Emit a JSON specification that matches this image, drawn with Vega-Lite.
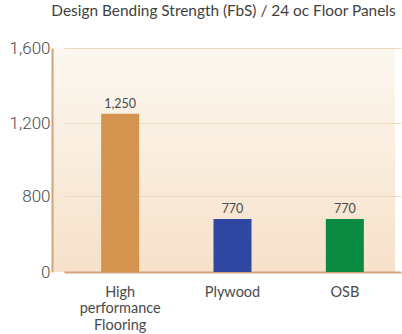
{
  "$schema": "https://vega.github.io/schema/vega-lite/v6.json",
  "autosize": {"type": "none"},
  "width": 343,
  "height": 224,
  "padding": {"left": 52, "top": 48, "right": 7, "bottom": 62},
  "background": "#ffffff",
  "title": {
    "text": "Design Bending Strength (FbS) / 24 oc Floor Panels",
    "anchor": "middle",
    "font": "Lato",
    "fontSize": 15.4,
    "fontWeight": "normal",
    "color": "#3f3f3f",
    "offset": 20
  },
  "config": {
    "view": {
      "stroke": null,
      "fill": {
        "gradient": "linear",
        "x1": 0, "y1": 0, "x2": 0, "y2": 1,
        "stops": [
          {"offset": 0, "color": "#fcf8f0"},
          {"offset": 1, "color": "#f7e1ca"}
        ]
      }
    },
    "font": "Lato"
  },
  "data": {
    "values": [
      {"material": "High performance Flooring", "strength": 1250, "label": "1,250"},
      {"material": "Plywood", "strength": 770, "label": "770"},
      {"material": "OSB", "strength": 770, "label": "770"}
    ]
  },
  "encoding": {
    "x": {
      "field": "material",
      "type": "nominal",
      "sort": null,
      "scale": {"range": [12, 349], "paddingInner": 0.66, "paddingOuter": 0.33},
      "axis": {
        "title": null,
        "labelAngle": 0,
        "labelFont": "Lato",
        "labelFontSize": 14.5,
        "labelColor": "#4a4a4a",
        "labelPadding": 13,
        "labelLineHeight": 16.5,
        "labelExpr": "datum.value == 'High performance Flooring' ? ['High', 'performance', 'Flooring'] : datum.value",
        "ticks": false,
        "domainColor": "#cfa57c",
        "domainWidth": 2,
        "labelBaseline": "top"
      }
    },
    "y": {
      "field": "strength",
      "type": "quantitative",
      "scale": {"domain": [0, 770, 800, 1200, 1600], "range": [224, 171, 148, 75, 0]},
      "axis": {
        "title": null,
        "values": [0, 800, 1200, 1600],
        "labelExpr": "format(datum.value, ',')",
        "labelFont": "Roboto",
        "labelFontWeight": 300,
        "labelFontSize": 17,
        "labelColor": "#4a4a4a",
        "labelPadding": 2,
        "ticks": false,
        "domainColor": "#cfa57c",
        "domainWidth": 2,
        "gridColor": "#ecd9c2",
        "gridWidth": 1.2
      }
    }
  },
  "layer": [
    {
      "mark": {"type": "bar", "width": 38},
      "encoding": {
        "color": {
          "field": "material",
          "type": "nominal",
          "scale": {
            "domain": ["High performance Flooring", "Plywood", "OSB"],
            "range": ["#d4944f", "#2f47a1", "#0b8a42"]
          },
          "legend": null
        }
      }
    },
    {
      "mark": {"type": "text", "baseline": "bottom", "dy": -3, "fontSize": 12.5, "color": "#4a4a4a", "font": "Lato"},
      "encoding": {
        "text": {"field": "label"}
      }
    }
  ]
}
